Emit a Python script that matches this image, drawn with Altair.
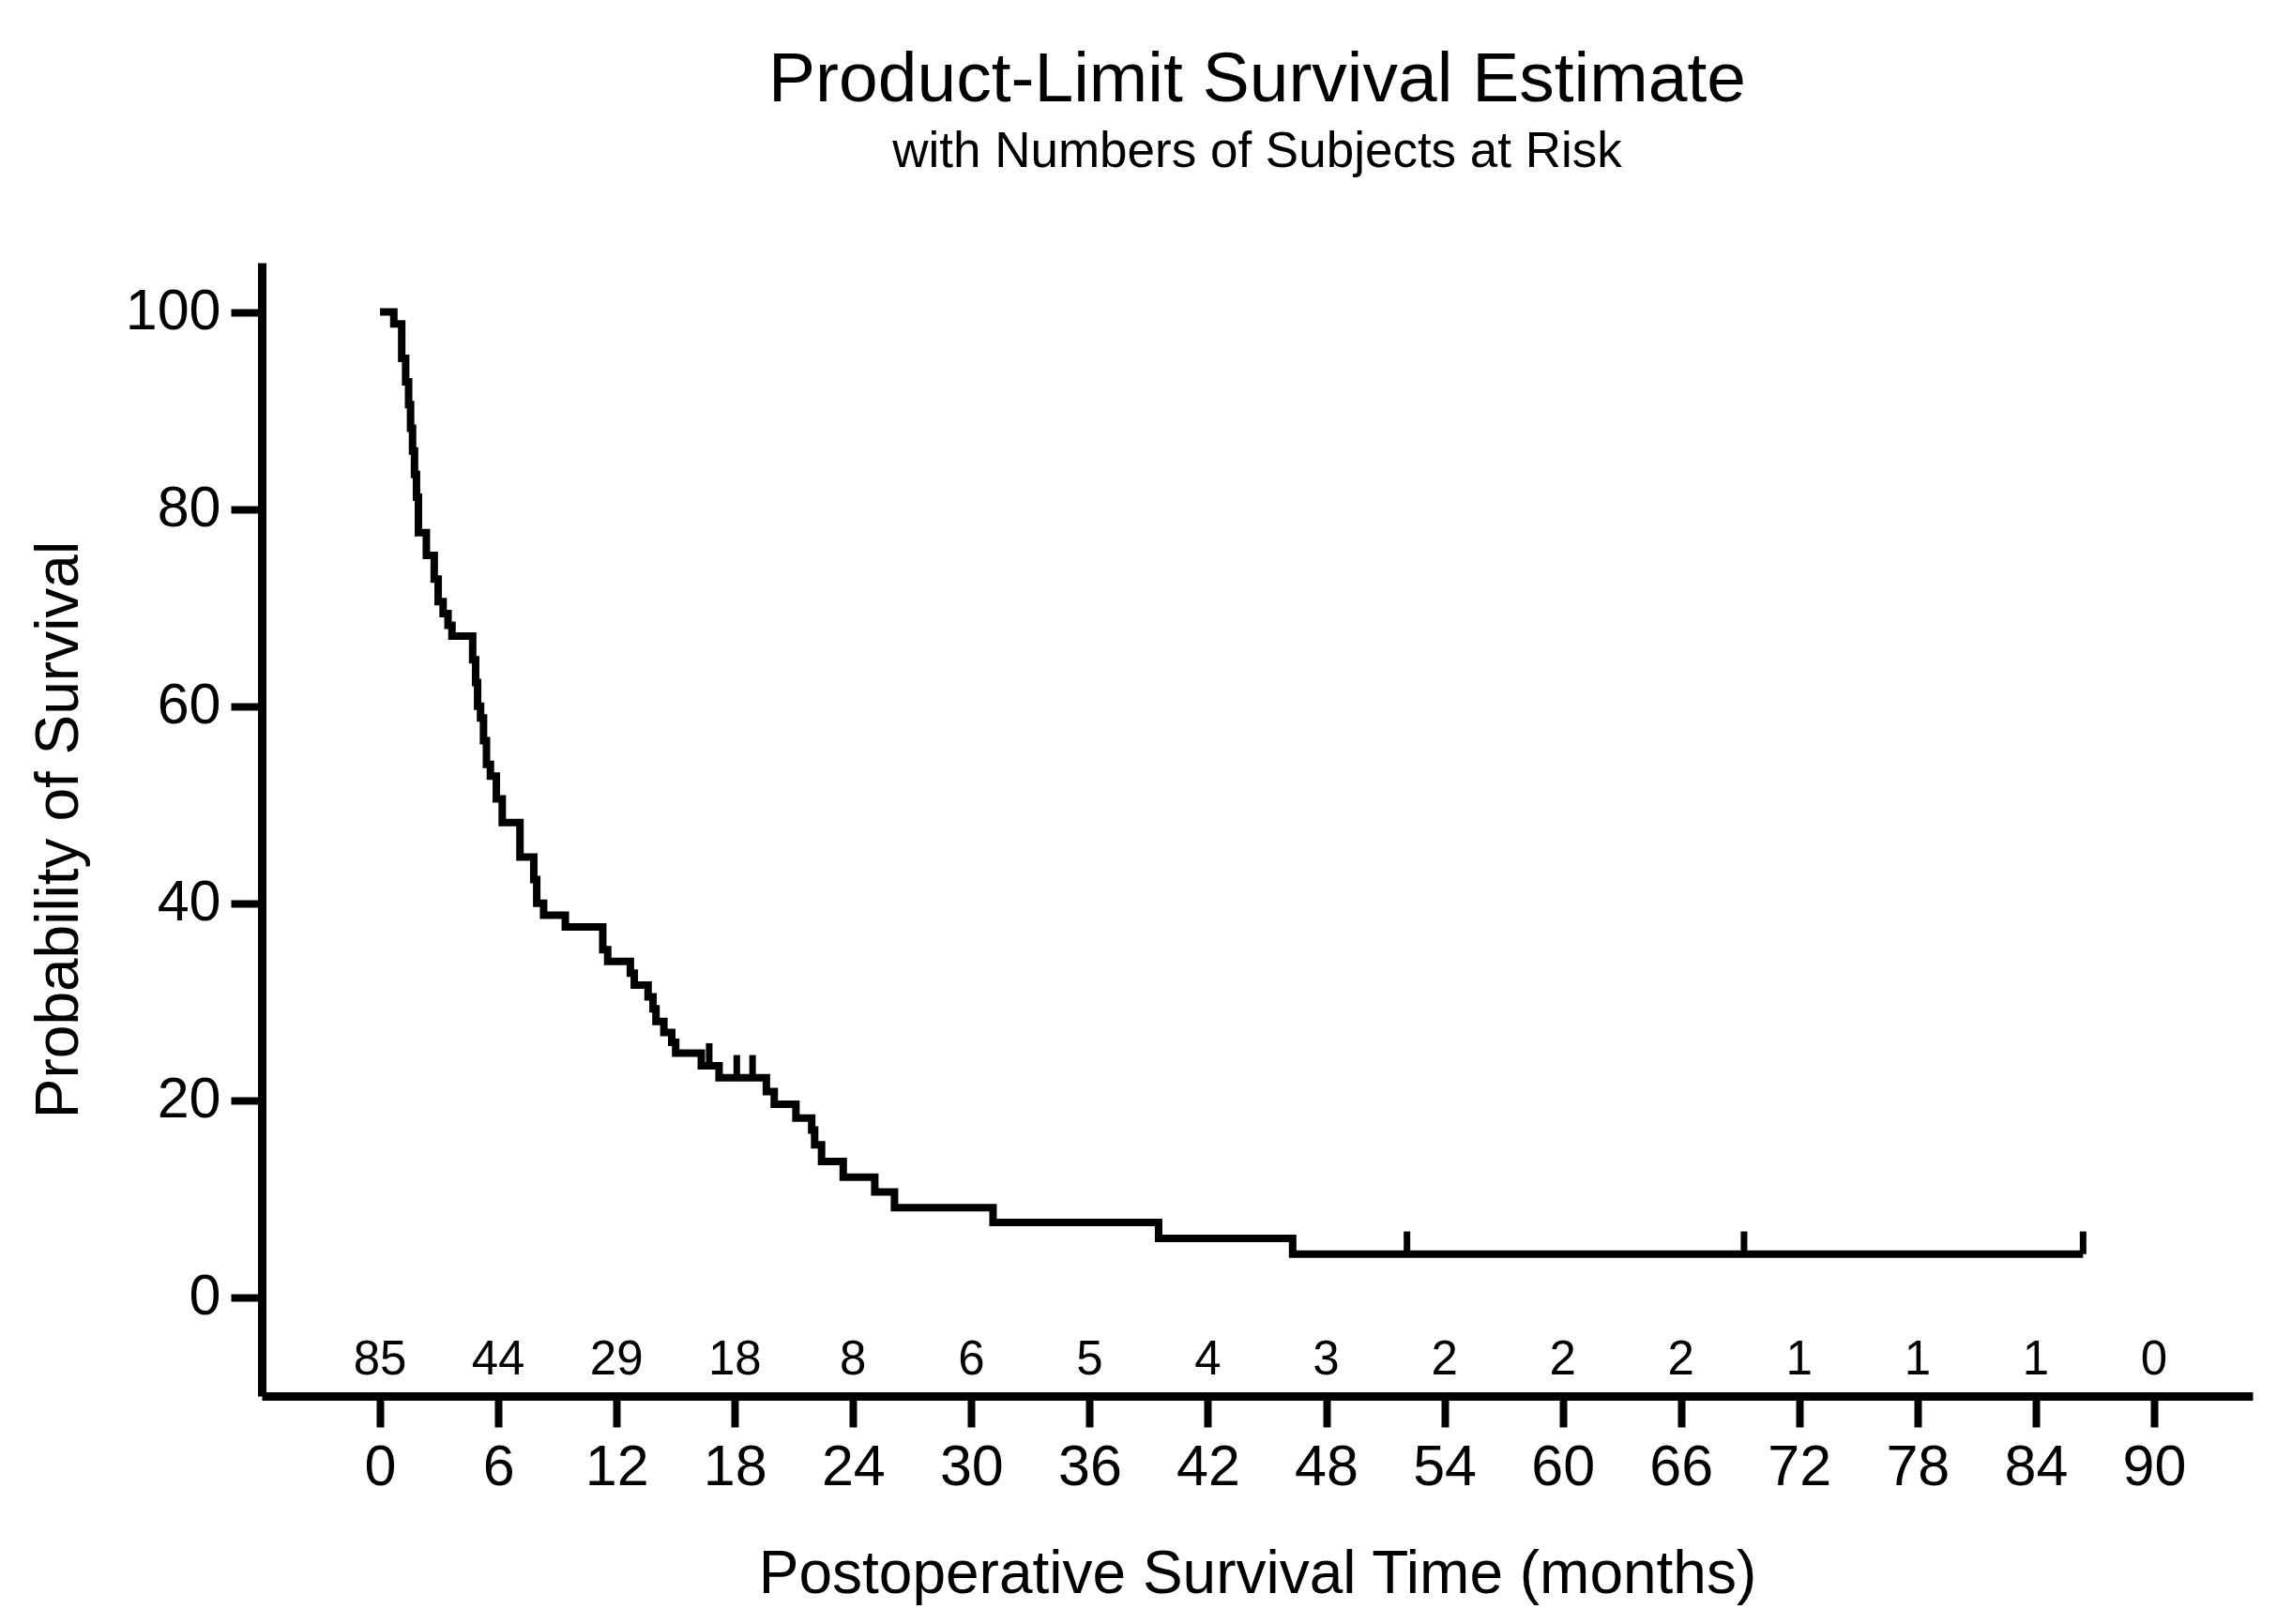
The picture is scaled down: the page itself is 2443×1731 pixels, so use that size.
import altair as alt
import pandas as pd

# Kaplan-Meier step curve (months, survival %)
step_time = [0, 0.7, 1.1, 1.3, 1.45, 1.55, 1.65, 1.75, 1.85, 1.95, 2.35, 2.75, 2.95,
             3.2, 3.45, 3.65, 4.7, 4.85, 4.95, 5.1, 5.25, 5.4, 5.6, 5.9, 6.2, 7.1,
             7.8, 7.95, 8.3, 9.4, 11.3, 11.55, 12.7, 12.9, 13.6, 13.85, 14.0, 14.4,
             14.8, 15.0, 16.3, 17.2, 19.6, 20.0, 21.1, 21.9, 22.05, 22.4, 23.5, 25.1,
             26.1, 31.1, 39.5, 46.3, 86.4]
step_surv = [100, 98.8, 95.3, 92.9, 90.6, 88.2, 85.9, 83.5, 81.2, 77.6, 75.3, 72.9, 70.6,
             69.4, 68.2, 67.1, 64.7, 62.4, 60.0, 58.8, 56.5, 54.1, 52.9, 50.6, 48.2, 44.7,
             42.4, 40.0, 38.8, 37.6, 35.3, 34.1, 32.9, 31.7, 30.5, 29.3, 28.0, 26.9,
             25.9, 24.8, 23.5, 22.3, 20.9, 19.6, 18.2, 17.0, 15.5, 13.8, 12.2, 10.7,
             9.1, 7.6, 6.0, 4.4, 4.4]

# Censored observations
cens_time = [16.7, 18.1, 18.9, 52.1, 69.2, 86.4]
cens_surv = [23.5, 22.3, 22.3, 4.4, 4.4, 4.4]

# Numbers at risk
risk_time = [0, 6, 12, 18, 24, 30, 36, 42, 48, 54, 60, 66, 72, 78, 84, 90]
risk_n = [85, 44, 29, 18, 8, 6, 5, 4, 3, 2, 2, 2, 1, 1, 1, 0]

y_ticks = [0, 20, 40, 60, 80, 100]

curve_df = pd.DataFrame({"t": step_time, "s": step_surv})
cens_df = pd.DataFrame({"t": cens_time, "s": cens_surv,
                        "s2": [v + 2.3 for v in cens_surv]})
risk_df = pd.DataFrame({"t": risk_time, "n": [str(v) for v in risk_n],
                        "y": [-7.8] * len(risk_time)})

FONT = "Liberation Sans"

xscale = alt.Scale(domain=[-6, 95], nice=False, zero=False)
yscale = alt.Scale(domain=[-10, 105], nice=False, zero=False)

xaxis = alt.Axis(values=risk_time, title="Postoperative Survival Time (months)",
                 labelPadding=13, titlePadding=52, labelFlush=False)
yaxis = alt.Axis(values=y_ticks, title="Probability of Survival",
                 labelPadding=11, titlePadding=38)

line = alt.Chart(curve_df).mark_line(
    interpolate="step-after", color="black", strokeWidth=8, strokeJoin="miter"
).encode(
    x=alt.X("t:Q", scale=xscale, axis=xaxis),
    y=alt.Y("s:Q", scale=yscale, axis=yaxis),
)

cens = alt.Chart(cens_df).mark_rule(color="black", strokeWidth=7).encode(
    x=alt.X("t:Q", scale=xscale),
    y=alt.Y("s:Q", scale=yscale),
    y2="s2:Q",
)

risk = alt.Chart(risk_df).mark_text(
    font=FONT, fontSize=51, color="black", baseline="alphabetic", align="center"
).encode(
    x=alt.X("t:Q", scale=xscale),
    y=alt.Y("y:Q", scale=yscale),
    text="n:N",
)

chart = alt.layer(line, cens, risk).properties(
    width=2122,
    height=1208,
    autosize=alt.AutoSizeParams(type="none"),
    padding={"left": 271, "top": 272, "right": 20, "bottom": 235},
    title=alt.TitleParams(
        text="Product-Limit Survival Estimate",
        subtitle="with Numbers of Subjects at Risk",
        font=FONT, subtitleFont=FONT,
        fontSize=75, subtitleFontSize=53,
        fontWeight="normal", subtitleFontWeight="normal",
        color="black", subtitleColor="black",
        anchor="middle", frame="group",
        offset=90, subtitlePadding=12,
    ),
).configure_view(stroke=None).configure_axis(
    grid=False,
    labelFont=FONT, titleFont=FONT,
    labelFontSize=61, titleFontSize=64,
    labelColor="black", titleColor="black",
    titleFontWeight="normal",
    domainColor="black", domainWidth=9,
    tickColor="black", tickWidth=8, tickSize=33,
)

chart.save("out.html", embed_options={"renderer": "svg", "actions": False})
